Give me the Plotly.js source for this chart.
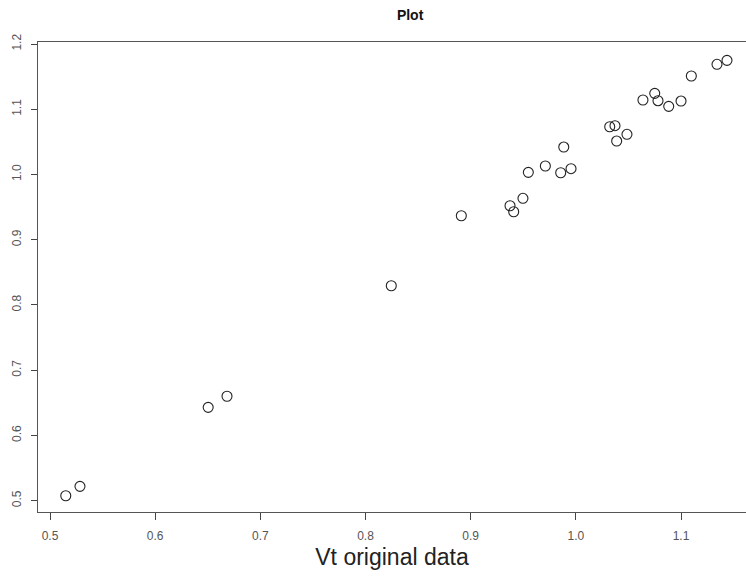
<!DOCTYPE html>
<html>
<head>
<meta charset="utf-8">
<script src="https://cdn.plot.ly/plotly-3.0.1.min.js"></script>
<style>html,body{margin:0;padding:0;background:#fff;}#chart{width:746px;height:578px;}</style>
</head>
<body>
<div id="chart"></div>
<script>
const vtOriginal = [0.515, 0.5285, 0.6504, 0.6683, 0.8245, 0.8911, 0.9374, 0.9409, 0.9497, 0.9548, 0.9710, 0.9856, 0.9954, 0.9885, 1.0322, 1.0372, 1.0388, 1.0486, 1.0638, 1.0750, 1.0781, 1.0883, 1.1000, 1.1098, 1.1342, 1.1437];
const vtModel    = [0.5076, 0.5220, 0.6431, 0.6601, 0.8295, 0.9368, 0.9521, 0.9429, 0.9635, 1.0033, 1.0130, 1.0027, 1.0089, 1.0421, 1.0732, 1.0748, 1.0513, 1.0616, 1.1142, 1.1244, 1.1131, 1.1045, 1.1126, 1.1510, 1.1689, 1.1750];
const xTicks = [0.5, 0.6, 0.7, 0.8, 0.9, 1.0, 1.1];
const xTickLabels = ["0.5", "0.6", "0.7", "0.8", "0.9", "1.0", "1.1"];
const yTicks = [0.5, 0.6, 0.7, 0.8, 0.9, 1.0, 1.1, 1.2];
const yTickLabels = ["0.5", "0.6", "0.7", "0.8", "0.9", "1.0", "1.1", "1.2"];

const trace = {
  x: vtOriginal,
  y: vtModel,
  type: 'scatter',
  mode: 'markers',
  marker: {symbol: 'circle-open', size: 10, color: '#222', line: {width: 1.1, color: '#222'}},
  hoverinfo: 'x+y'
};

const layout = {
  width: 746, height: 578,
  margin: {l: 38, r: 0, t: 42, b: 66},
  paper_bgcolor: '#fff', plot_bgcolor: '#fff',
  showlegend: false,
  font: {family: 'Liberation Sans, Arial, sans-serif', color: '#333'},
  title: {text: '<b>Plot</b>', font: {size: 14, color: '#111'}, x: 0.5256, xanchor: 'center', y: 1 - 15/578, yanchor: 'middle', yref: 'container', xref: 'paper'},
  xaxis: {
    range: [0.48859, 1.16178], autorange: false,
    tickvals: xTicks, ticktext: xTickLabels,
    ticks: 'outside', ticklen: 7, tickwidth: 1, tickcolor: '#444',
    ticklabelstandoff: 5,
    showline: true, linecolor: '#555', linewidth: 1.2, mirror: true,
    showgrid: false, zeroline: false,
    tickfont: {size: 12, color: '#555'},
    title: {text: 'Vt original data', font: {size: 23, color: '#222'}, standoff: 7}
  },
  yaxis: {
    range: [0.4827, 1.2031], autorange: false,
    tickvals: yTicks, ticktext: yTickLabels,
    ticks: 'outside', ticklen: 6, tickwidth: 1, tickcolor: '#444',
    ticklabelstandoff: 5,
    tickangle: -90,
    showline: true, linecolor: '#555', linewidth: 1.2, mirror: false,
    showgrid: false, zeroline: false,
    tickfont: {size: 12, color: '#555'}
  }
};

Plotly.newPlot('chart', [trace], layout, {displayModeBar: false, staticPlot: true});
</script>
</body>
</html>
